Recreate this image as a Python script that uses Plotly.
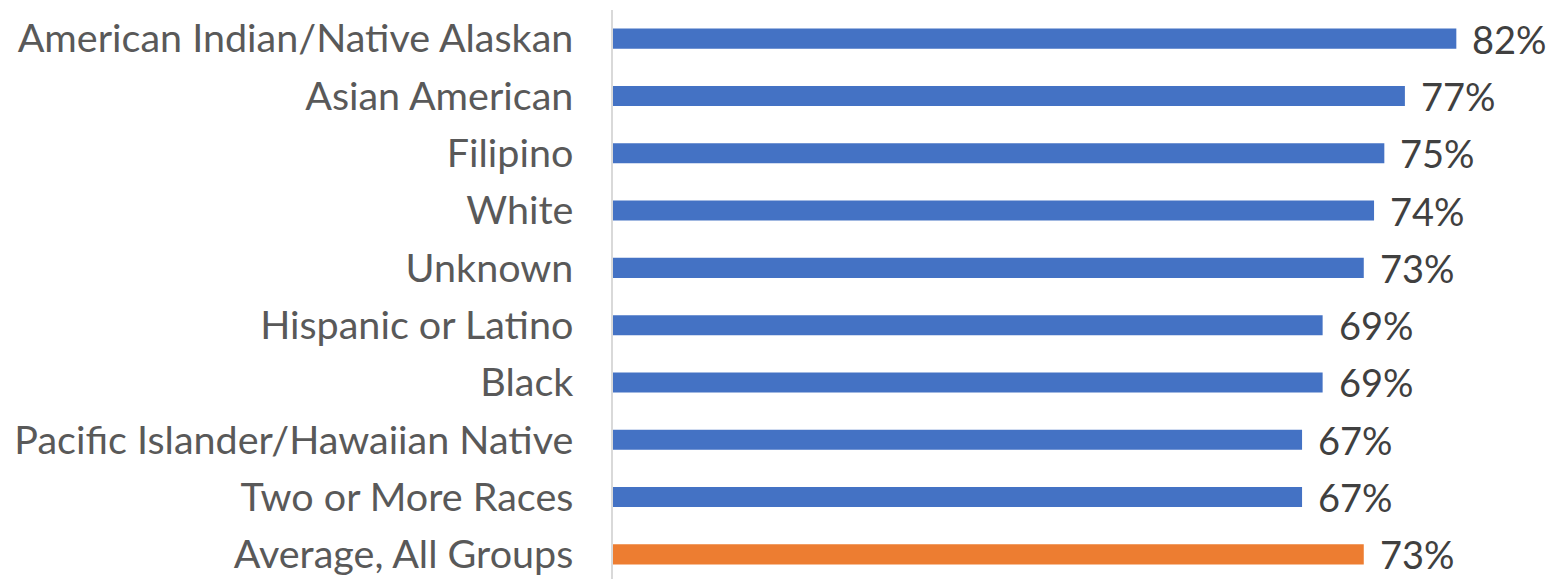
import plotly.graph_objects as go

# Share of students by race/ethnicity group (percent)
groups = [
    "American Indian/Native Alaskan",
    "Asian American",
    "Filipino",
    "White",
    "Unknown",
    "Hispanic or Latino",
    "Black",
    "Pacific Islander/Hawaiian Native",
    "Two or More Races",
    "Average, All Groups",
]
values = [82, 77, 75, 74, 73, 69, 69, 67, 67, 73]
labels = ["82%", "77%", "75%", "74%", "73%", "69%", "69%", "67%", "67%", "73%"]

BLUE = "#4472C4"
ORANGE = "#ED7D31"
colors = [ORANGE if g.startswith("Average") else BLUE for g in groups]

FONT = "Lato, Calibri, Arial, sans-serif"

fig = go.Figure(
    go.Bar(
        x=values,
        y=groups,
        orientation="h",
        marker=dict(color=colors, line=dict(width=0)),
        width=0.35,
        hoverinfo="skip",
    )
)

# value labels placed just past the end of each bar
for g, v, t in zip(groups, values, labels):
    fig.add_annotation(
        x=v, y=g, text=t, showarrow=False,
        xanchor="left", yanchor="middle", xshift=14,
        font=dict(family=FONT, size=38, color="#404040"),
    )

fig.update_layout(
    width=1553,
    height=579,
    margin=dict(l=613, r=0, t=10, b=0),
    paper_bgcolor="white",
    plot_bgcolor="white",
    showlegend=False,
    xaxis=dict(
        range=[0, 91.4],
        visible=False,
        fixedrange=True,
    ),
    yaxis=dict(
        type="category",
        range=[9.43, -0.5],
        showgrid=False,
        zeroline=False,
        showline=True,
        linecolor="#D9D9D9",
        linewidth=1.5,
        ticks="",
        ticklabelstandoff=30,
        tickfont=dict(family=FONT, size=39.5, color="#595959"),
        fixedrange=True,
    ),
)

fig.write_html("out.html")
